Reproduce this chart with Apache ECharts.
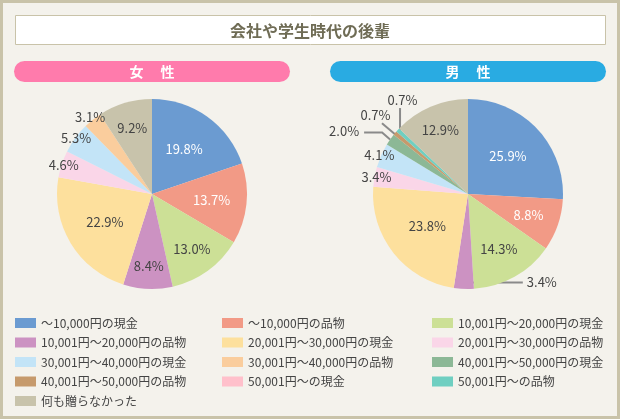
<!DOCTYPE html>
<html><head><meta charset="utf-8">
<script src="https://cdn.jsdelivr.net/npm/echarts@6/dist/echarts.min.js"></script>
<style>html,body{margin:0;padding:0;background:#f4f2ec;} #c{width:620px;height:419px;}</style>
</head><body><div id="c"></div>
<script>
const categories = ['～10,000円の現金','～10,000円の品物','10,001円～20,000円の現金','10,001円～20,000円の品物','20,001円～30,000円の現金','20,001円～30,000円の品物','30,001円～40,000円の現金','30,001円～40,000円の品物','40,001円～50,000円の現金','40,001円～50,000円の品物','50,001円～の現金','50,001円～の品物','何も贈らなかった'];
const femaleValues = [19.8,13.7,13.0,8.4,22.9,4.6,5.3,3.1,0,0,0,0,9.2];
const maleValues = [25.9,8.8,14.3,3.4,23.8,3.4,4.1,0,2.0,0.7,0,0.7,12.9];
const titleText = '会社や学生時代の後輩';
const femaleTitle = '女　 性';
const maleTitle = '男　 性';
const legendColumns = [[0,3,6,9,12],[1,4,7,10],[2,5,8,11]];

const colors = ['#6b9bd1','#f29a86','#cce096','#cc92c2','#fde09d','#fad6e8','#c3e4f7','#facd9d','#8cb896','#c69a6c','#ffc0cb','#6fcfc1','#c8c3ab'];
const FONT = '"Noto Sans CJK JP", "Noto Sans", sans-serif';
const R = 95;
const femaleCenter = [152, 194];
const maleCenter = [468, 194];

// label placement styles (radius of label centre, or guide-line offsets from the slice edge point)
const femaleLabelCfg = {0:{r:55},1:{r:60},2:{r:68},3:{r:72},4:{r:55},5:{r:93},6:{r:94},7:{r:99},12:{r:69}};
const maleLabelCfg = {
  0:{r:55},1:{r:64},2:{r:63},4:{r:52},5:{r:93},6:{r:97},12:{r:70},
  3:{line:[[-1,-6.5],[59,-6.5]], text:[63,-6.5], align:'left'},
  8:{line:[[0,0],[-8,-7],[-26,-7]], text:[-31,-9], align:'right'},
  9:{line:[[0,1],[-13,-10]], text:[-19.5,-18.5], align:'center'},
  11:{line:[[2.3,1],[2.3,-22]], text:[4.8,-30.5], align:'center'}
};
const whiteIdx = [0,1];
const lineStyle = {color: '#8a8a8a', width: 2};

function makeLayout(center, cfg) {
  const cx = center[0], cy = center[1];
  return function (p) {
    const c = cfg[p.dataIndex];
    if (!c) return {};
    if (c.r) {
      const lr = p.labelRect;
      const lx = lr.x + lr.width / 2, ly = lr.y + lr.height / 2;
      const dx = lx - cx, dy = ly - cy;
      const len = Math.hypot(dx, dy) || 1;
      return {x: cx + dx / len * c.r, y: cy + dy / len * c.r, align: 'center', verticalAlign: 'middle'};
    }
    if (c.line && p.labelLinePoints) {
      const p0 = p.labelLinePoints[0];
      const pts = c.line.map(o => [p0[0] + o[0], p0[1] + o[1]]);
      return {x: p0[0] + c.text[0], y: p0[1] + c.text[1], align: c.align, verticalAlign: 'middle', labelLinePoints: pts};
    }
    return {};
  };
}

function pieSeries(values, center, cfg) {
  return {
    type: 'pie', center: center, radius: [0, R], startAngle: 90, clockwise: true,
    avoidLabelOverlap: false, silent: true, animation: false,
    itemStyle: {borderWidth: 0},
    emphasis: {disabled: true},
    label: {show: true, position: 'inside', fontSize: 13, color: '#444', fontFamily: FONT,
      formatter: p => p.value.toFixed(1) + '%'},
    labelLine: {show: false, length: 5, length2: 5, lineStyle: lineStyle},
    labelLayout: makeLayout(center, cfg),
    data: categories.map((n, i) => {
      const item = {name: n, value: values[i]};
      if (values[i] === 0) { item.label = {show: false}; item.labelLine = {show: false}; }
      else if (cfg[i] && cfg[i].line) { item.label = {position: 'outside'}; item.labelLine = {show: true, lineStyle: lineStyle}; }
      else if (whiteIdx.includes(i)) { item.label = {color: '#fff'}; }
      return item;
    })
  };
}

const legendLefts = [15, 222, 432];
const chart = echarts.init(document.getElementById('c'), null, {renderer: 'canvas'});
chart.setOption({
  backgroundColor: '#f4f2ec',
  color: colors,
  animation: false,
  graphic: [
    {type: 'rect', z: 0, shape: {x: 1.5, y: 1.5, width: 617, height: 416}, style: {fill: 'none', stroke: '#c9c3a9', lineWidth: 3}},
    {type: 'rect', z: 0, shape: {x: 15.5, y: 15.5, width: 590, height: 29}, style: {fill: '#fff', stroke: '#c9c3a9', lineWidth: 1}},
    {type: 'text', z: 1, x: 310, y: 30.5, style: {text: titleText, fill: '#6f6c55', font: 'bold 16px ' + FONT, align: 'center', verticalAlign: 'middle'}},
    {type: 'rect', z: 0, shape: {x: 14, y: 61, width: 276, height: 21, r: 10.5}, style: {fill: '#ff7bac'}},
    {type: 'rect', z: 0, shape: {x: 330, y: 61, width: 276, height: 21, r: 10.5}, style: {fill: '#29abe2'}},
    {type: 'text', z: 1, x: 152, y: 71.5, style: {text: femaleTitle, fill: '#fff', font: 'bold 14px ' + FONT, align: 'center', verticalAlign: 'middle'}},
    {type: 'text', z: 1, x: 468, y: 71.5, style: {text: maleTitle, fill: '#fff', font: 'bold 14px ' + FONT, align: 'center', verticalAlign: 'middle'}}
  ],
  legend: legendColumns.map((col, k) => ({
    orient: 'vertical', left: legendLefts[k], top: 317, padding: 0,
    itemWidth: 21, itemHeight: 10, itemGap: 7.5, icon: 'rect', selectedMode: false,
    textStyle: {fontSize: 12, color: '#444', fontFamily: FONT, lineHeight: 12},
    data: col.map(i => categories[i])
  })),
  series: [
    pieSeries(femaleValues, femaleCenter, femaleLabelCfg),
    pieSeries(maleValues, maleCenter, maleLabelCfg)
  ]
});
</script>
</body></html>
